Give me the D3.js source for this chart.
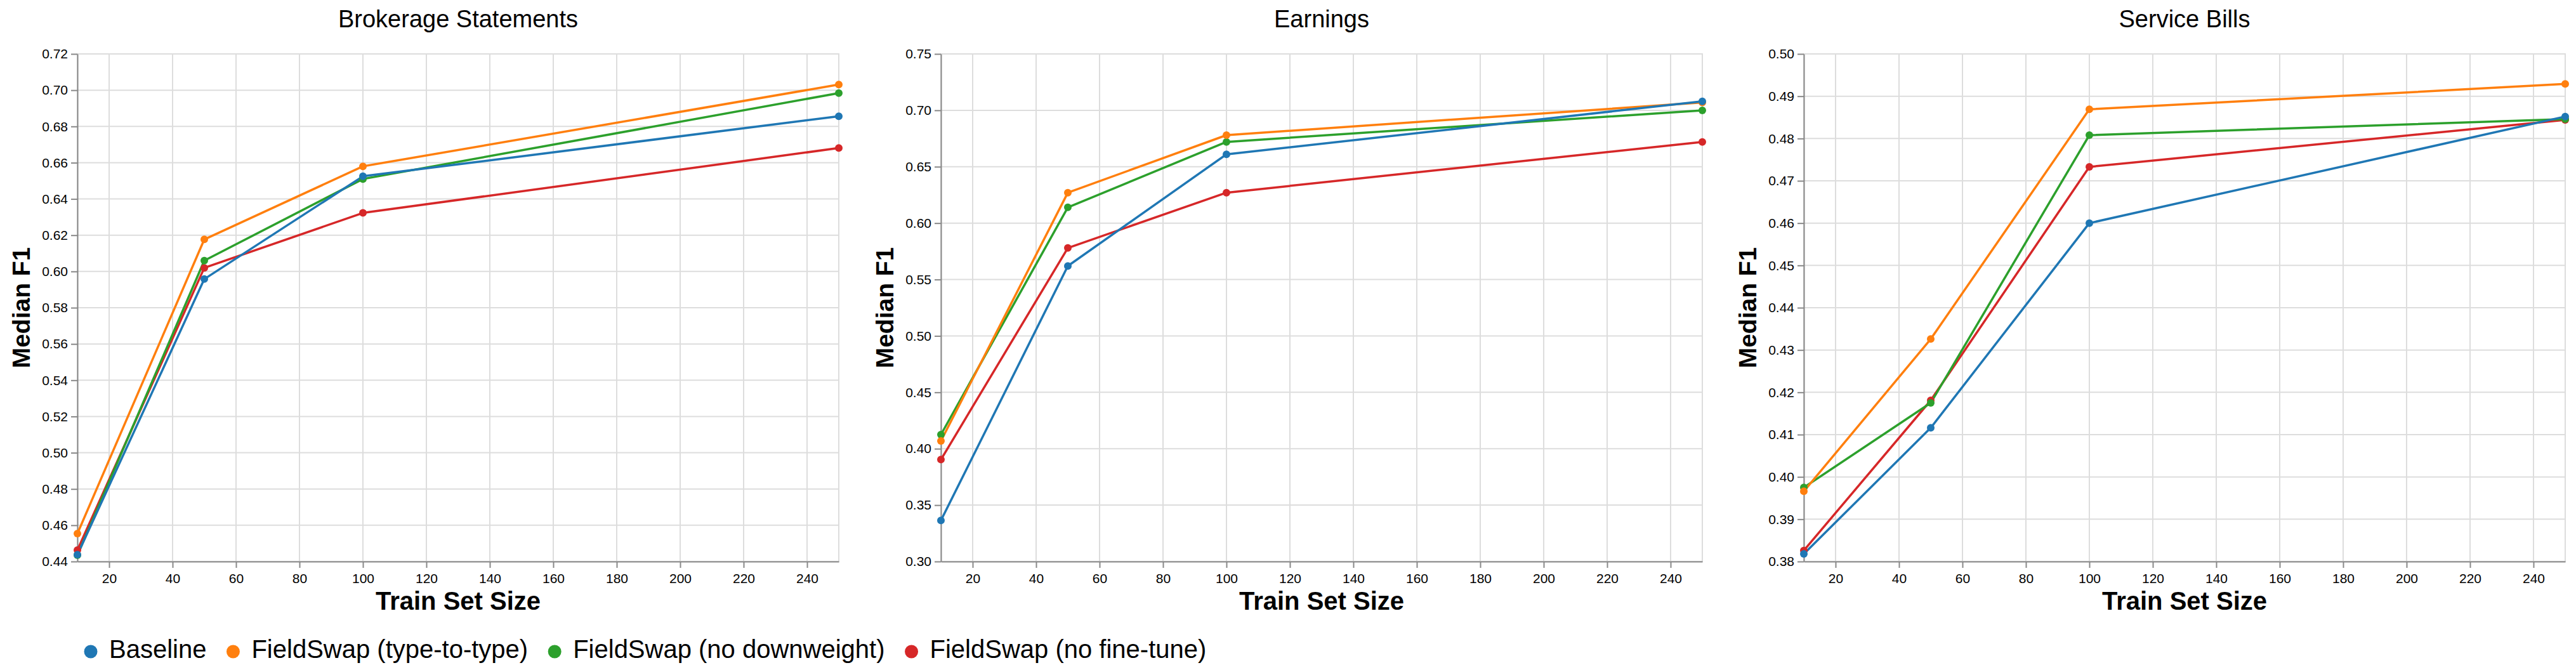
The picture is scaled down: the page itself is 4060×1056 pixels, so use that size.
<!DOCTYPE html>
<html>
<head>
<meta charset="utf-8">
<script src="https://cdn.jsdelivr.net/npm/d3@7"></script>
<style>
  html, body { margin:0; padding:0; background:#fff; }
  svg { display:block; font-family:"Liberation Sans", Arial, Helvetica, sans-serif; }
  .grid line { stroke:#ddd; stroke-width:2; }
  .axis path, .axis line { stroke:#888; stroke-width:2; }
  .axis text { font-size:21px; fill:#000; }
</style>
</head>
<body>
<div id="chart"></div>
<script>
// ====== données
const TRAIN_SIZES = [10, 50, 100, 250];
const SERIES = ["Baseline", "FieldSwap (type-to-type)", "FieldSwap (no downweight)", "FieldSwap (no fine-tune)"];
const COLORS = ["#1f77b4", "#ff7f0e", "#2ca02c", "#d62728"];
const X_TICKS = [20, 40, 60, 80, 100, 120, 140, 160, 180, 200, 220, 240];

const PANELS = ["Brokerage Statements", "Earnings", "Service Bills"];

// median F1 par série (ordre de SERIES), une valeur par taille d'entraînement
const BROKERAGE = [
  [0.4438, 0.5958, 0.6525, 0.6856],
  [0.4554, 0.6177, 0.6580, 0.7031],
  [0.4435, 0.6060, 0.6510, 0.6984],
  [0.4463, 0.6020, 0.6323, 0.6681]
];
const EARNINGS = [
  [0.3364, 0.5620, 0.6610, 0.7080],
  [0.4069, 0.6270, 0.6780, 0.7070],
  [0.4125, 0.6140, 0.6720, 0.7000],
  [0.3904, 0.5780, 0.6270, 0.6720]
];
const SERVICE = [
  [0.3818, 0.4116, 0.4600, 0.4852],
  [0.3966, 0.4326, 0.4869, 0.4929],
  [0.3975, 0.4175, 0.4808, 0.4846],
  [0.3826, 0.4181, 0.4733, 0.4844]
];
const PANEL_DATA = [BROKERAGE, EARNINGS, SERVICE];

// domaines et ticks y
const Y_DOMAINS = [[0.44, 0.72], [0.30, 0.75], [0.38, 0.50]];
const Y_TICKS = [
  d3.range(0.44, 0.7201, 0.02),
  d3.range(0.30, 0.7501, 0.05),
  d3.range(0.38, 0.5001, 0.01)
];

// ====== dimensions
const W = 4060, H = 1056;
const PANEL_LEFT = [122, 1483, 2843];
const PW = 1200, PH = 800, TOP = 85;

const svg = d3.select("#chart").append("svg")
  .attr("width", W).attr("height", H)
  .attr("viewBox", [0, 0, W, H]);

PANELS.forEach((name, p) => {
  const g = svg.append("g").attr("transform", `translate(${PANEL_LEFT[p]},${TOP})`);
  const x = d3.scaleLinear().domain([10, 250]).range([0, PW]);
  const y = d3.scaleLinear().domain(Y_DOMAINS[p]).range([PH, 0]);

  // cadre de la vue
  g.append("rect")
    .attr("width", PW).attr("height", PH)
    .attr("fill", "none").attr("stroke", "#ddd").attr("stroke-width", 2);

  // grilles
  g.append("g").attr("class", "grid")
    .selectAll("line").data(X_TICKS).join("line")
    .attr("x1", d => x(d)).attr("x2", d => x(d))
    .attr("y1", 0).attr("y2", PH);
  g.append("g").attr("class", "grid")
    .selectAll("line").data(Y_TICKS[p]).join("line")
    .attr("x1", 0).attr("x2", PW)
    .attr("y1", d => y(d)).attr("y2", d => y(d));

  // axes
  g.append("g").attr("class", "axis")
    .attr("transform", `translate(0,${PH})`)
    .call(d3.axisBottom(x).tickValues(X_TICKS).tickSize(10).tickPadding(6).tickSizeOuter(0))
    .selectAll("text").attr("dy", "0.85em");
  g.append("g").attr("class", "axis")
    .call(d3.axisLeft(y).tickValues(Y_TICKS[p]).tickFormat(d3.format(".2f")).tickSize(10).tickPadding(5).tickSizeOuter(0));

  // titres
  g.append("text")
    .attr("x", PW / 2).attr("y", 43 - TOP)
    .attr("text-anchor", "middle")
    .style("font-size", "38px")
    .text(name);
  g.append("text")
    .attr("x", PW / 2).attr("y", 961 - TOP)
    .attr("text-anchor", "middle")
    .style("font-size", "40px").style("font-weight", "bold")
    .text("Train Set Size");
  g.append("text")
    .attr("transform", `translate(-75,${PH / 2}) rotate(-90)`)
    .attr("text-anchor", "middle")
    .style("font-size", "39px").style("font-weight", "bold")
    .text("Median F1");

  // lignes + points (dernière série dessous, Baseline au-dessus)
  const rows = PANEL_DATA[p].map((vals, i) => ({
    i, pts: vals.map((v, k) => ({ x: TRAIN_SIZES[k], y: v }))
  })).reverse();

  const line = d3.line().x(d => x(d.x)).y(d => y(d.y));
  g.append("g").selectAll("path").data(rows).join("path")
    .attr("d", d => line(d.pts))
    .attr("fill", "none")
    .attr("stroke", d => COLORS[d.i])
    .attr("stroke-width", 3.5)
    .attr("stroke-linejoin", "round");

  rows.forEach(r => {
    g.append("g").selectAll("circle").data(r.pts).join("circle")
      .attr("cx", d => x(d.x)).attr("cy", d => y(d.y))
      .attr("r", 6)
      .attr("fill", COLORS[r.i]);
  });
});

// ====== légende
const legend = svg.append("g").attr("transform", "translate(0,1027)");
let lx = 143;
SERIES.forEach((s, i) => {
  legend.append("circle").attr("cx", lx).attr("cy", 0).attr("r", 10.5).attr("fill", COLORS[i]);
  const t = legend.append("text")
    .attr("x", lx + 29).attr("y", 10)
    .style("font-size", "40px")
    .text(s);
  lx += 29 + t.node().getComputedTextLength() + 42;
});
</script>
</body>
</html>
